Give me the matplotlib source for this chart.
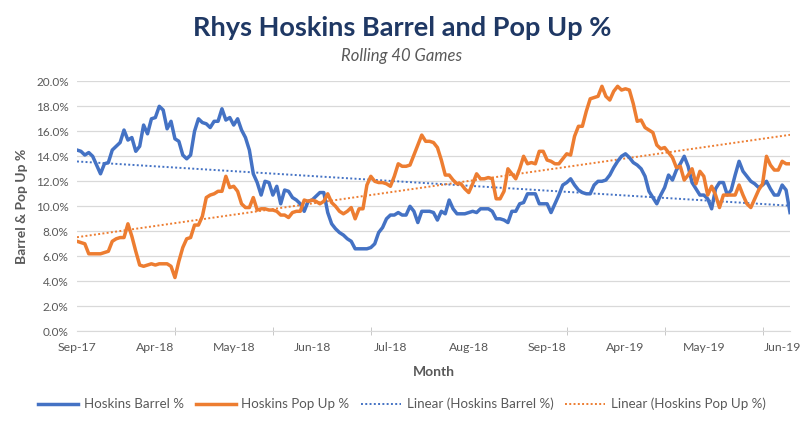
import numpy as np
import matplotlib.pyplot as plt
from matplotlib.ticker import FuncFormatter, MultipleLocator

# rolling 40 game rates (%), one value per game window
barrel = [14.5, 14.4, 14.1, 14.3, 14.0, 13.3, 12.6, 13.4, 13.5, 14.5,
          14.8, 15.1, 16.1, 15.3, 15.5, 14.4, 14.8, 16.5, 15.8, 17.0,
          17.1, 18.0, 17.7, 16.2, 16.8, 15.4, 15.2, 14.1, 13.8, 14.1,
          16.0, 17.0, 16.7, 16.6, 16.3, 16.8, 16.8, 17.8, 16.9, 17.1,
          16.5, 17.0, 16.1, 15.5, 14.5, 12.6, 11.9, 10.9, 12.0, 11.9,
          10.9, 11.6, 10.2, 11.3, 11.2, 10.7, 10.5, 10.2, 9.6, 10.4,
          10.5, 10.8, 11.1, 11.1, 9.5, 8.6, 8.2, 7.9, 7.7, 7.4,
          7.2, 6.6, 6.6, 6.6, 6.6, 6.7, 7.0, 7.9, 8.3, 9.0,
          9.3, 9.3, 9.5, 9.3, 9.3, 10.0, 9.6, 8.7, 9.6, 9.6,
          9.6, 9.5, 8.9, 9.6, 9.4, 10.5, 9.8, 9.4, 9.4, 9.4,
          9.5, 9.6, 9.5, 9.8, 9.8, 9.8, 9.6, 9.0, 9.0, 8.9,
          8.7, 9.6, 9.6, 10.2, 10.3, 11.0, 11.0, 11.0, 10.2, 10.2,
          10.2, 9.5, 10.2, 10.9, 11.7, 11.9, 12.2, 11.7, 11.3, 11.1,
          11.0, 11.0, 11.7, 12.0, 12.0, 12.1, 12.5, 13.1, 13.6, 14.0,
          14.2, 13.9, 13.5, 13.3, 13.0, 12.4, 11.2, 10.7, 10.2, 10.9,
          11.5, 12.5, 12.1, 12.9, 13.4, 14.0, 13.2, 11.9, 11.4, 10.9,
          10.9, 10.6, 9.8, 11.4, 11.9, 11.9, 10.9, 11.3, 12.5, 13.6,
          12.8, 12.4, 12.0, 11.8, 11.5, 11.7, 12.0, 11.4, 10.9, 10.9,
          11.7, 11.3, 9.5]

popup = [7.2, 7.1, 7.0, 6.2, 6.2, 6.2, 6.2, 6.3, 6.4, 7.2,
         7.4, 7.5, 7.5, 8.6, 7.6, 6.4, 5.3, 5.2, 5.3, 5.4,
         5.3, 5.4, 5.4, 5.4, 5.2, 4.3, 5.6, 6.7, 7.4, 7.5,
         8.5, 8.5, 9.2, 10.7, 10.9, 11.0, 11.2, 11.2, 12.4, 11.5,
         11.6, 11.2, 10.2, 9.9, 9.9, 10.7, 9.7, 9.8, 9.8, 9.7,
         9.7, 9.6, 9.3, 9.3, 9.1, 9.5, 9.6, 9.6, 10.5, 10.4,
         10.5, 10.4, 10.2, 10.4, 11.0, 10.3, 10.0, 9.6, 9.4, 9.6,
         9.9, 9.0, 9.8, 9.8, 11.7, 12.4, 12.0, 11.9, 11.9, 11.8,
         11.6, 12.4, 13.4, 13.2, 13.2, 13.3, 14.1, 14.9, 15.7, 15.2,
         15.2, 15.1, 14.7, 13.7, 12.5, 12.5, 12.1, 11.8, 11.8, 11.4,
         11.1, 11.8, 12.6, 12.2, 12.2, 12.3, 12.2, 10.6, 10.6, 11.2,
         13.0, 12.6, 12.2, 13.0, 14.0, 13.4, 13.5, 13.4, 14.4, 14.4,
         13.7, 13.6, 13.4, 13.4, 13.8, 14.2, 14.1, 15.6, 16.4, 16.4,
         17.6, 18.6, 18.7, 18.8, 19.6, 18.8, 18.5, 19.2, 19.6, 19.3,
         19.4, 19.3, 18.2, 16.8, 16.9, 16.3, 16.1, 15.9, 14.9, 14.6,
         14.7, 14.3, 13.9, 13.1, 13.2, 12.1, 12.5, 13.0, 11.8, 12.8,
         12.4, 10.9, 11.6, 10.9, 9.9, 10.9, 10.9, 10.9, 10.9, 11.7,
         10.9, 10.2, 9.9, 10.6, 11.3, 11.8, 14.0, 13.3, 12.9, 12.9,
         13.6, 13.4, 13.4]

month_labels = ['Sep-17', 'Apr-18', 'May-18', 'Jun-18', 'Jul-18',
                'Aug-18', 'Sep-18', 'Apr-19', 'May-19', 'Jun-19']

plt.rcParams['font.family'] = ['Lato', 'DejaVu Sans']

x = np.arange(len(barrel))
fit_b = np.polyval(np.polyfit(x, barrel, 1), x)
fit_p = np.polyval(np.polyfit(x, popup, 1), x)

blue = '#4472C4'
orange = '#ED7D31'
grey = '#595959'

fig = plt.figure(figsize=(8.04, 4.24), dpi=100)
ax = fig.add_axes([77/804, 1 - 331.3/424, 713/804, 250/424])

ax.plot(x, barrel, color=blue, lw=2.5, label='Hoskins Barrel %', zorder=3)
ax.plot(x, popup, color=orange, lw=2.5, label='Hoskins Pop Up %', zorder=3)
ax.plot(x, fit_b, color=blue, lw=1.4, ls=(0, (1, 1.2)),
        label='Linear (Hoskins Barrel %)', zorder=2)
ax.plot(x, fit_p, color=orange, lw=1.4, ls=(0, (1, 1.2)),
        label='Linear (Hoskins Pop Up %)', zorder=2)

ax.set_xlim(0, len(barrel) - 1)
ax.set_ylim(0, 20)
ax.yaxis.set_major_locator(MultipleLocator(2))
ax.yaxis.set_major_formatter(FuncFormatter(lambda v, p: f'{v:.1f}%'))
ax.grid(axis='y', color='#D9D9D9', lw=0.9)
ax.set_axisbelow(True)

ax.set_xticks(np.arange(0, len(barrel), 20))
ax.set_xticklabels(month_labels)
ax.set_xticks(np.arange(0, len(barrel), 25), minor=True)
ax.tick_params(axis='x', which='major', length=0, pad=8, labelsize=8.8, labelcolor=grey)
ax.tick_params(axis='x', which='minor', length=6, direction='inout', color='#BFBFBF')
ax.tick_params(axis='y', length=0, pad=6, labelsize=8.5, labelcolor=grey)

for s in ['top', 'right', 'left']:
    ax.spines[s].set_visible(False)
ax.spines['bottom'].set_color('#D9D9D9')

ax.set_xlabel('Month', fontsize=10, fontweight='bold', color=grey, labelpad=9)
ax.set_ylabel('Barrel & Pop Up %', fontsize=10, fontweight='bold', color=grey, labelpad=6)

fig.text(0.5, 1 - 28/424, 'Rhys Hoskins Barrel and Pop Up %', ha='center', va='center',
         fontsize=19.5, fontweight='bold', color='#1F3864')
fig.text(0.5, 1 - 56/424, 'Rolling 40 Games', ha='center', va='center',
         fontsize=12, style='italic', color=grey)

fig.legend(loc='center', bbox_to_anchor=(0.5, 1 - 404/424), ncol=4, frameon=False,
           fontsize=9.6, labelcolor=grey, handlelength=3.0, handletextpad=0.4,
           columnspacing=0.9)

fig.savefig('out.png', dpi=100)
